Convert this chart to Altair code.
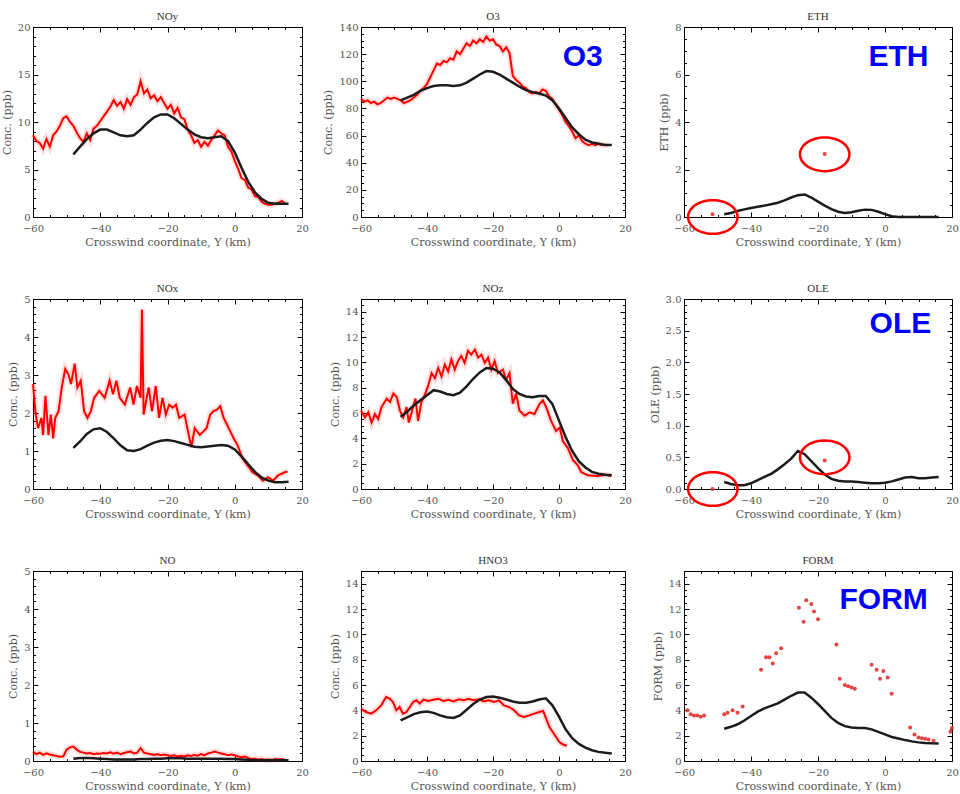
import altair as alt
import pandas as pd
import numpy as np

# ---------------- data ----------------
KM_OBS = [-60, -59, -58, -57, -56, -55, -54, -53, -52, -51, -50, -49, -48, -47, -46, -45, -44, -43, -42, -41,
          -40, -39, -38, -37, -36, -35, -34, -33, -32, -31, -30, -29, -28, -27, -26, -25, -24, -23, -22, -21,
          -20, -19, -18, -17, -16, -15, -14, -13, -12, -11, -10, -9, -8, -7, -6, -5, -4, -3, -2, -1,
          0, 1, 2, 3, 4, 5, 6, 7, 8, 9, 10, 11, 12, 13, 14, 15]
KM_MOD = [-48, -46, -44, -42, -40, -38, -36, -34, -32, -30, -28, -26, -24, -22, -20, -18, -16, -14, -12, -10,
          -8, -6, -4, -2, 0, 2, 4, 6, 8, 10, 12, 14, 16]

NOY_OBS = [8.6, 8.0, 7.8, 7.2, 8.2, 7.4, 8.6, 9.0, 9.6, 10.4,
           10.6, 10.0, 9.6, 8.9, 8.3, 7.9, 8.8, 8.1, 9.3, 9.6,
           10.1, 10.6, 11.1, 11.6, 12.3, 11.7, 12.1, 11.4, 12.4, 11.8,
           12.6, 12.9, 14.3, 13.0, 13.4, 12.5, 12.8, 12.2, 12.6, 12.0,
           11.4, 11.8, 10.9, 11.5, 10.5, 10.3, 9.2, 8.6, 7.8, 8.1,
           7.4, 7.9, 7.5, 8.1, 8.6, 9.1, 8.8, 8.6, 7.4, 6.9,
           5.9, 5.1, 4.1, 3.9, 3.1, 2.9, 2.2, 2.1, 1.6, 1.4,
           1.3, 1.3, 1.4, 1.5, 1.7, 1.4]
NOY_MOD = [6.6, 7.4, 8.2, 8.8, 9.2, 9.2, 8.9, 8.6, 8.5, 8.6, 9.2, 9.9, 10.5, 10.8, 10.8, 10.4, 9.8, 9.2,
           8.7, 8.4, 8.3, 8.4, 8.5, 8.0, 6.8, 5.2, 3.7, 2.6, 1.9, 1.5, 1.4, 1.4, 1.4]

O3_OBS = [87, 85, 86, 84, 85, 83, 84, 86, 88, 87,
          88, 87, 86, 84, 85, 86, 88, 90, 93, 95,
          98, 103, 108, 113, 112, 115, 114, 117, 116, 122,
          120, 124, 128, 126, 130, 128, 131, 129, 133, 130,
          131, 127, 126, 122, 125, 121, 104, 101, 99, 96,
          95, 92, 91, 92, 91, 94, 93, 89, 87, 83,
          79, 75, 70, 67, 63, 58, 60, 56, 54, 53,
          54, 53, 54, 53, 53, 53]
O3_MOD = [86, 88, 90, 93, 95, 96.5, 97, 97, 96.5, 97, 99, 102, 105, 107.5, 107, 105, 102, 99, 96, 93.5,
          92, 91, 89.5, 86, 80, 73, 66, 61, 57, 55, 54, 53, 53]

ETH_MOD = [0.12, 0.17, 0.25, 0.32, 0.38, 0.43, 0.48, 0.54, 0.6, 0.7, 0.82, 0.92, 0.95, 0.82, 0.65, 0.48,
           0.33, 0.22, 0.17, 0.2, 0.26, 0.31, 0.3, 0.22, 0.12, 0.03, 0.0, 0.0, 0.0, 0.0, 0.0, 0.0, 0.0]
ETH_PTS_X = [-51.5, -18]
ETH_PTS_Y = [0.12, 2.65]

NOX_X = [-60, -59.2, -58.5, -57.5, -57, -56.3, -55.4, -54.7, -54, -53.4, -52.4, -51.4, -50.4, -49.4, -48.7,
         -47.6, -46.8, -45.8, -44.8, -43.8, -42.8, -41.8, -40.3, -38.7, -37.2, -36.2, -35.2, -34.2, -32.7,
         -31.1, -30.1, -29.1, -28.0, -27.6, -27.1, -25.6, -24.6, -23.5, -22.5, -21.5, -20.5, -19.5, -18.5,
         -17.5, -16.5, -14.9, -13.9, -12.9, -11.9, -10.4, -9.4, -8.4, -7.3, -6.3, -5.3, -4.3, -3.3, -2.3,
         -1.3, -0.3, 0.8, 2.3, 3.8, 5.3, 6.8, 8.4, 9.9, 11.4, 12.9, 14.9, 15.7]
NOX_OBS = [2.76, 1.96, 1.6, 1.87, 1.42, 2.45, 1.42, 1.96, 1.33, 1.87, 2.05, 2.7, 3.16, 3.0, 2.76,
           3.3, 2.67, 2.85, 2.05, 1.87, 2.05, 2.4, 2.58, 2.4, 2.85, 2.49, 2.85, 2.4, 2.22,
           2.67, 2.22, 2.71, 2.4, 4.72, 1.96, 2.67, 2.05, 2.71, 1.87, 2.4, 1.96, 2.22, 2.14,
           2.22, 1.87, 1.96, 1.51, 1.1, 1.6, 1.42, 1.51, 1.6, 1.96, 2.05, 2.09, 2.18, 1.87, 1.69,
           1.51, 1.33, 1.16, 0.8, 0.62, 0.44, 0.36, 0.22, 0.31, 0.22, 0.36, 0.44, 0.46]
NOX_MOD = [1.08, 1.25, 1.45, 1.57, 1.6, 1.5, 1.33, 1.15, 1.02, 1.0, 1.05, 1.14, 1.22, 1.27, 1.29, 1.26,
           1.21, 1.16, 1.11, 1.1, 1.12, 1.14, 1.16, 1.14, 1.04, 0.86, 0.65, 0.45, 0.3, 0.22, 0.18, 0.18, 0.19]

NOZ_X = [-60, -58.8, -57.8, -56.8, -55.8, -54.8, -53.8, -52.2, -51.2, -50.2, -49.2, -48.2, -47.2, -46.2,
         -45.5, -44.5, -43.5, -42.7, -41.7, -40.7, -39.6, -38.6, -37.6, -36.6, -35.6, -34.6, -33.6, -32.6,
         -31.6, -30.6, -29.6, -28.6, -27.6, -26.6, -25.5, -24.5, -23.5, -22.5, -21.5, -20.5, -19.5, -18.5,
         -17, -16, -15, -14, -13, -12, -10.4, -8.9, -7.4, -5.9, -4.9, -3.9, -2.4, -0.9, 0.2, 1.2, 2.7, 4.2,
         5.7, 6.7, 8.7, 11.7, 14.3, 15.8]
NOZ_OBS = [6.2, 5.65, 6.06, 5.25, 5.92, 5.52, 6.46, 7.14, 6.87, 7.54, 7.27, 6.19, 5.65, 6.46,
           5.25, 6.19, 7.14, 5.38, 6.87, 7.4, 8.2, 9.15, 8.75, 9.56, 8.88, 9.83, 9.29, 10.23,
           9.42, 10.1, 10.5, 9.96, 10.9, 10.6, 11.0, 10.37, 10.6, 9.96, 10.37, 9.42, 10.1, 9.15,
           9.42, 8.62, 9.15, 6.73, 7.54, 6.19, 5.79, 6.06, 5.92, 6.73, 7.0, 6.46, 5.38, 4.58, 4.85, 3.77,
           3.23, 2.29, 1.88, 1.35, 1.08, 1.02, 1.13, 1.02]
NOZ_MOD = [5.7, 6.1, 6.6, 7.0, 7.4, 7.8, 7.7, 7.5, 7.4, 7.6, 8.1, 8.7, 9.2, 9.55, 9.5, 9.2, 8.6, 7.9,
           7.5, 7.3, 7.25, 7.35, 7.35, 6.7, 5.4, 4.1, 3.0, 2.2, 1.7, 1.35, 1.2, 1.12, 1.08]

OLE_MOD = [0.11, 0.08, 0.06, 0.06, 0.09, 0.14, 0.19, 0.24, 0.31, 0.39, 0.48, 0.6, 0.55, 0.44, 0.33, 0.23,
           0.16, 0.13, 0.12, 0.12, 0.11, 0.1, 0.09, 0.09, 0.1, 0.12, 0.15, 0.18, 0.19, 0.17, 0.17, 0.18, 0.19]
OLE_PTS_X = [-51.5, -18]
OLE_PTS_Y = [0.0, 0.45]

NO_OBS = [0.24, 0.18, 0.22, 0.16, 0.2, 0.17, 0.15, 0.13, 0.11, 0.12,
          0.3, 0.36, 0.38, 0.3, 0.24, 0.22, 0.2, 0.21, 0.18, 0.2,
          0.19, 0.21, 0.2, 0.23, 0.19, 0.22, 0.18, 0.21, 0.23, 0.25,
          0.2, 0.22, 0.34, 0.22, 0.2, 0.18, 0.16, 0.18, 0.15, 0.17,
          0.15, 0.13, 0.15, 0.12, 0.14, 0.12, 0.15, 0.13, 0.16, 0.14,
          0.18, 0.15, 0.2, 0.22, 0.25, 0.22, 0.2, 0.18, 0.15, 0.17,
          0.15, 0.12, 0.1, 0.12, 0.08, 0.05, 0.06, 0.04, 0.05, 0.03,
          0.04, 0.03, 0.05, 0.04, 0.05, 0.03]
NO_MOD = [0.06, 0.08, 0.08, 0.07, 0.06, 0.05, 0.04, 0.04, 0.04, 0.04, 0.05, 0.05, 0.06, 0.06, 0.07, 0.07,
          0.07, 0.06, 0.06, 0.06, 0.06, 0.06, 0.06, 0.05, 0.05, 0.04, 0.03, 0.02, 0.02, 0.02, 0.02, 0.02, 0.02]

HNO3_X = [-60, -58.5, -56.9, -55.4, -53.9, -52.4, -51.3, -50.3, -49.3, -48.3, -47.3, -46.2, -45.2, -44.2,
          -43.2, -42.2, -41.1, -39.6, -38.1, -36.6, -35, -33.5, -32, -30.4, -28.9, -27.4, -25.9, -24.3,
          -22.8, -21.3, -19.7, -18.2, -16.7, -15.1, -13.6, -12.1, -10.6, -9, -7.5, -6, -4.8, -3.9, -2.9,
          -1.9, -0.9, 0.1, 1.2, 2.4]
HNO3_OBS = [4.13, 3.87, 3.74, 4.0, 4.39, 5.05, 4.92, 4.66, 4.0, 4.26, 3.74, 3.87, 4.26, 4.66,
            4.79, 4.53, 4.84, 4.74, 4.84, 4.92, 4.74, 4.84, 4.71, 4.87, 4.79, 4.92, 4.79, 4.87,
            4.71, 4.79, 4.66, 4.79, 4.39, 4.26, 4.0, 3.6, 3.47, 3.6, 3.74, 3.87, 3.95, 3.34, 2.68,
            2.29, 1.89, 1.5, 1.3, 1.2]
HNO3_MOD = [3.2, 3.45, 3.7, 3.85, 3.9, 3.8, 3.6, 3.45, 3.4, 3.6, 4.05, 4.5, 4.85, 5.05, 5.1, 5.0, 4.85,
            4.7, 4.6, 4.6, 4.7, 4.85, 4.95, 4.4, 3.5, 2.5, 1.8, 1.35, 1.05, 0.85, 0.72, 0.65, 0.6]

FORM_PTS_X = [-59, -58, -57, -56, -55, -54, -48, -47, -45.5, -44, -42.5, -37, -35.5, -34.5, -33.5,
              -32.5, -31, -25.7, -24.3, -23.5, -22, -21.2, -20, -14.5, -13.5, -12, -11, -10, -9, -4,
              -2.5, -1.5, -0.5, 0.8, 2, 7.5, 8.8, 10, 11, 12, 13, 14.5, 19.5, 20]
FORM_PTS_Y = [4.0, 3.7, 3.6, 3.6, 3.5, 3.6, 3.7, 3.8, 4.0, 3.8, 4.3, 7.2, 8.2, 8.2, 7.7,
              8.5, 8.9, 12.1, 11.0, 12.7, 12.4, 11.8, 11.2, 9.2, 6.5, 6.0, 5.9, 5.8, 5.7, 7.6,
              7.2, 6.5, 7.1, 6.6, 5.3, 2.65, 2.1, 1.85, 1.8, 1.75, 1.7, 1.6, 2.3, 2.6]
FORM_MOD = [2.55, 2.7, 2.9, 3.2, 3.55, 3.9, 4.15, 4.35, 4.55, 4.85, 5.15, 5.4, 5.4, 5.0, 4.5, 3.95, 3.4,
            3.0, 2.75, 2.65, 2.6, 2.6, 2.5, 2.3, 2.1, 1.9, 1.78, 1.65, 1.55, 1.47, 1.42, 1.4, 1.38]

# annotations (data coordinates of each panel)
BIG_LABELS = {"O3": (7.2, 118), "ETH": (4.0, 6.75), "OLE": (4.6, 2.6), "FORM": (-0.4, 12.7)}
ELLIPSES = {"ETH": ([-51.4, -18.0], [0.0, 2.64]), "OLE": ([-51.4, -18.0], [0.0, 0.5])}

X_MAJOR = [-60, -40, -20, 0, 20]
X_MINOR = [-55, -50, -45, -35, -30, -25, -15, -10, -5, 5, 10, 15]

# ---------------- styling ----------------
H = 190
RED = "#ff0000"
BLACK = "#1c1c1c"
BLUE = "#0000ff"
SERIF = "DejaVu Serif"
XTITLE = "Crosswind coordinate, Y (km)"

_t = np.linspace(0, 2 * np.pi, 49)
ELLIPSE_PATH = "M" + " L".join(f"{np.cos(a):.4f},{0.68 * np.sin(a):.4f}" for a in _t) + " Z"

XS = alt.Scale(domain=[-60, 20], nice=False, zero=False)


def frame_axis(values, tick_len, span, orient, title=None, labels=False, fmt=None, lab_pad=3, tit_pad=4):
    kw = dict(values=values, orient=orient, labels=labels, ticks=False, domain=False, grid=True,
              gridColor="black", gridOpacity=1, gridWidth=1,
              gridDash=[tick_len, span - 2 * tick_len, tick_len, 4000],
              labelFlush=False, labelOverlap=False, labelPadding=lab_pad, titlePadding=tit_pad,
              minExtent=0, title=title)
    if fmt:
        kw["format"] = fmt
    return alt.Axis(**kw)


def make_panel(title, ytitle, ymax, ymajor, yminor, w, obs=None, pts=None, model=None,
               fmt="d", big=None, ellipses=None):
    ys = alt.Scale(domain=[0, ymax], nice=False, zero=False)
    nmaj = int(round(ymax / ymajor))
    y_major = [round(i * ymajor, 6) for i in range(nmaj + 1)]
    nmin = int(round(ymax / yminor))
    y_minor = [round(i * yminor, 6) for i in range(nmin + 1)]
    y_minor = [v for v in y_minor if all(abs(v - m) > 1e-6 for m in y_major)]
    # top label sitting on the frame pushes the title up; compensate so all titles line up
    top_label = abs(y_major[-1] - ymax) < 1e-6
    title_offset = 0 if top_label else 5

    base_df = pd.DataFrame({"x": model[0], "y": model[1]})
    # invisible layers that carry the labelled axes and the inward IDL-style ticks
    major_layer = alt.Chart(base_df).mark_line(opacity=0).encode(
        x=alt.X("x:Q", scale=XS, axis=frame_axis(X_MAJOR, 5, H, "bottom", title=XTITLE, labels=True,
                                                  fmt="d", lab_pad=6, tit_pad=3)),
        y=alt.Y("y:Q", scale=ys, axis=frame_axis(y_major, 5, w, "left", title=ytitle, labels=True,
                                                  fmt=fmt, lab_pad=3, tit_pad=5)),
    )
    minor_layer = alt.Chart(base_df).mark_line(opacity=0).encode(
        x=alt.X("x:Q", scale=XS, axis=frame_axis(X_MINOR, 2.5, H, "bottom")),
        y=alt.Y("y:Q", scale=ys, axis=frame_axis(y_minor, 2.5, w, "left")),
    )
    X = alt.X("x:Q", scale=XS, axis=None)
    Y = alt.Y("y:Q", scale=ys, axis=None)

    layers = [major_layer, minor_layer]
    if obs is not None:
        df = pd.DataFrame({"x": obs[0], "y": obs[1]})
        layers.append(alt.Chart(df).mark_line(color=RED, strokeWidth=6, opacity=0.13).encode(x=X, y=Y))
        layers.append(alt.Chart(df).mark_line(color=RED, strokeWidth=2).encode(x=X, y=Y))
    layers.append(alt.Chart(base_df).mark_line(color=BLACK, strokeWidth=2.5).encode(x=X, y=Y))
    if pts is not None:
        df = pd.DataFrame({"x": pts[0], "y": pts[1]})
        layers.append(alt.Chart(df).mark_point(shape="circle", filled=True, size=16, color="#e53030",
                                               opacity=0.9).encode(x=X, y=Y))
    if ellipses is not None:
        df = pd.DataFrame({"x": ellipses[0], "y": ellipses[1]})
        layers.append(alt.Chart(df).mark_point(shape=ELLIPSE_PATH, size=2450, filled=False, color=RED,
                                               strokeWidth=2.5, opacity=1).encode(x=X, y=Y))
    if big is not None:
        df = pd.DataFrame({"x": [big[1][0]], "y": [big[1][1]], "label": [big[0]]})
        layers.append(alt.Chart(df).mark_text(font="Liberation Sans", fontSize=30, fontWeight="bold",
                                              color=BLUE, align="center", baseline="middle")
                      .encode(x=X, y=Y, text="label:N"))
    return alt.layer(*layers).resolve_axis(x="independent", y="independent").properties(
        width=w, height=H,
        title=alt.TitleParams(title, font="Liberation Serif", fontSize=11, fontWeight="normal",
                              color="#333", offset=title_offset),
    )


W1, W2, W3 = 269, 264, 268
CONC = "Conc. (ppb)"
panels = [
    make_panel("NOy", CONC, 20, 5, 1, W1, obs=(KM_OBS, NOY_OBS), model=(KM_MOD, NOY_MOD)),
    make_panel("O3", CONC, 140, 20, 5, W2, obs=(KM_OBS, O3_OBS), model=(KM_MOD, O3_MOD),
               big=("O3", BIG_LABELS["O3"])),
    make_panel("ETH", "ETH (ppb)", 8, 2, 0.5, W3, pts=(ETH_PTS_X, ETH_PTS_Y), model=(KM_MOD, ETH_MOD),
               ellipses=ELLIPSES["ETH"], big=("ETH", BIG_LABELS["ETH"])),
    make_panel("NOx", CONC, 5, 1, 0.2, W1, obs=(NOX_X, NOX_OBS), model=(KM_MOD, NOX_MOD)),
    make_panel("NOz", CONC, 15, 2, 0.5, W2, obs=(NOZ_X, NOZ_OBS), model=(KM_MOD, NOZ_MOD)),
    make_panel("OLE", "OLE (ppb)", 3, 0.5, 0.1, W3, pts=(OLE_PTS_X, OLE_PTS_Y), model=(KM_MOD, OLE_MOD),
               fmt=".1f", ellipses=ELLIPSES["OLE"], big=("OLE", BIG_LABELS["OLE"])),
    make_panel("NO", CONC, 5, 1, 0.2, W1, obs=(KM_OBS, NO_OBS), model=(KM_MOD, NO_MOD)),
    make_panel("HNO3", CONC, 15, 2, 0.5, W2, obs=(HNO3_X, HNO3_OBS), model=(KM_MOD, HNO3_MOD)),
    make_panel("FORM", "FORM (ppb)", 15, 2, 0.5, W3, pts=(FORM_PTS_X, FORM_PTS_Y), model=(KM_MOD, FORM_MOD),
               big=("FORM", BIG_LABELS["FORM"])),
]

chart = alt.concat(*panels, columns=3, spacing={"row": 82, "column": 59}, bounds="flush", align="each")
chart = chart.properties(
    padding={"left": 0, "top": 10, "right": 0, "bottom": 0},
    background="white",
).configure_view(stroke="black", strokeWidth=1).configure_axis(
    labelFont=SERIF, labelFontSize=10, labelColor="#555",
    titleFont=SERIF, titleFontSize=11, titleFontWeight="normal", titleColor="#555",
)

chart.save("out.html", embed_options={"renderer": "svg", "actions": False})
